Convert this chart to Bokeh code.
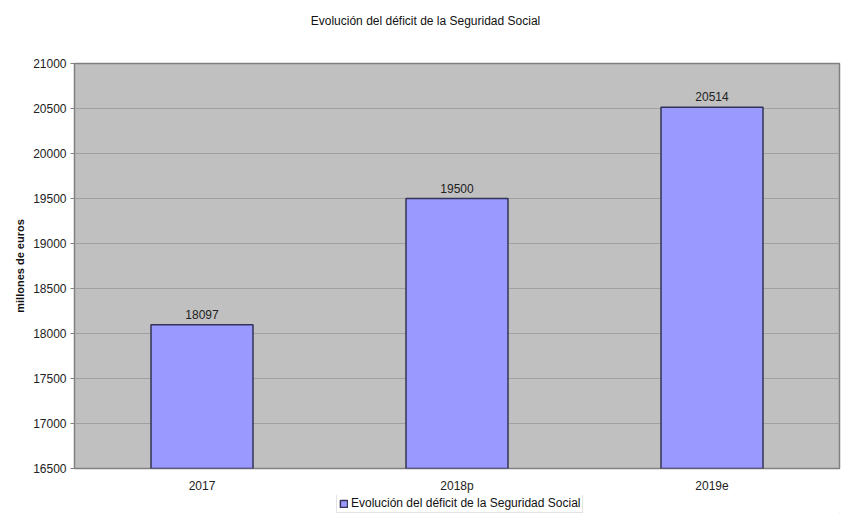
from bokeh.plotting import figure
from bokeh.layouts import column
from bokeh.models import ColumnDataSource, FactorRange, Range1d, SingleIntervalTicker, LabelSet, Label, Legend, LegendItem
from bokeh.core.properties import value
from bokeh.embed import file_html
from bokeh.resources import INLINE

categories = ["2017", "2018p", "2019e"]
values = [18097, 19500, 20514]
y_min, y_max, y_step = 16500, 21000, 500
title_text = "Evolución del déficit de la Seguridad Social"
y_label = "millones de euros"
series_name = "Evolución del déficit de la Seguridad Social"

FONT = "Liberation Sans"
FS = "12px"
BAR_FILL = "#9999ff"
BAR_LINE = "#333355"

src = ColumnDataSource(dict(cat=categories, val=values, lbl=[str(v) for v in values]))

# title strip
tt = figure(width=846, height=40, x_range=(0, 1), y_range=(0, 1), output_backend="svg",
            toolbar_location=None, x_axis_location=None, y_axis_location=None,
            min_border=0, outline_line_color=None)
tt.grid.visible = False
tt.add_layout(Label(x=351, y=20, x_units="screen", y_units="screen", text=title_text,
                    text_align="center", text_baseline="middle",
                    text_font=FONT, text_font_size=FS, text_color="#111111"))

p = figure(x_range=FactorRange(*categories, range_padding=0), y_range=Range1d(y_min, y_max),
           width=846, height=455, output_backend="svg", toolbar_location=None,
           min_border_left=74, min_border_right=7, min_border_top=23, min_border_bottom=27)
p.background_fill_color = "#c0c0c0"
p.border_fill_color = "white"
p.outline_line_color = "#808080"
p.outline_line_width = 1.5

r = p.vbar(x="cat", top="val", bottom=y_min, width=0.4, source=src,
           fill_color=BAR_FILL, line_color=BAR_LINE, line_width=1.5)

p.add_layout(LabelSet(x="cat", y="val", text="lbl", source=src, y_offset=6,
                      text_align="center", text_baseline="bottom",
                      text_font=value(FONT), text_font_size=FS, text_color="#222222"))

p.yaxis.ticker = SingleIntervalTicker(interval=y_step)
p.yaxis.axis_line_color = None
p.yaxis.major_tick_out = 4
p.yaxis.major_tick_in = 0
p.yaxis.major_tick_line_color = "#808080"
p.yaxis.minor_tick_line_color = None
p.yaxis.major_label_standoff = 4
p.yaxis.major_label_text_font = FONT
p.yaxis.major_label_text_font_size = FS
p.yaxis.major_label_text_color = "#222222"
p.yaxis.axis_label = y_label
p.yaxis.axis_label_text_font = FONT
p.yaxis.axis_label_text_font_size = "11px"
p.yaxis.axis_label_text_font_style = "bold"
p.yaxis.axis_label_text_color = "#111111"
p.yaxis.axis_label_standoff = 4

p.xaxis.axis_line_color = None
p.xaxis.major_tick_line_color = None
p.xaxis.major_tick_out = 0
p.xaxis.major_label_standoff = 10
p.xaxis.major_label_text_font = FONT
p.xaxis.major_label_text_font_size = FS
p.xaxis.major_label_text_color = "#222222"

p.xgrid.grid_line_color = None
p.ygrid.grid_line_color = "#a0a0a0"
p.ygrid.grid_line_width = 1

# legend strip below the chart
lg = figure(width=846, height=18, x_range=(0, 1), y_range=(0, 1), output_backend="svg",
            toolbar_location=None, x_axis_location=None, y_axis_location=None,
            min_border=0, outline_line_color=None, background_fill_color="white")
lg.grid.visible = False
dummy = lg.vbar(x=[10], top=[-5], bottom=[-6], width=0.4,
                fill_color=BAR_FILL, line_color=BAR_LINE, line_width=1.5)
legend = Legend(items=[LegendItem(label=series_name, renderers=[dummy])],
                location=(262, 0), orientation="horizontal",
                label_text_font=FONT, label_text_font_size=FS, label_text_color="#111111",
                glyph_width=9, glyph_height=9, label_standoff=3, padding=2, margin=0,
                label_height=12, spacing=0,
                border_line_color="#c8c8c8", border_line_width=1,
                background_fill_color="white", background_fill_alpha=1)
lg.add_layout(legend, "center")

layout = column(tt, p, lg, spacing=0)
open("out.html", "w").write(file_html(layout, INLINE))
